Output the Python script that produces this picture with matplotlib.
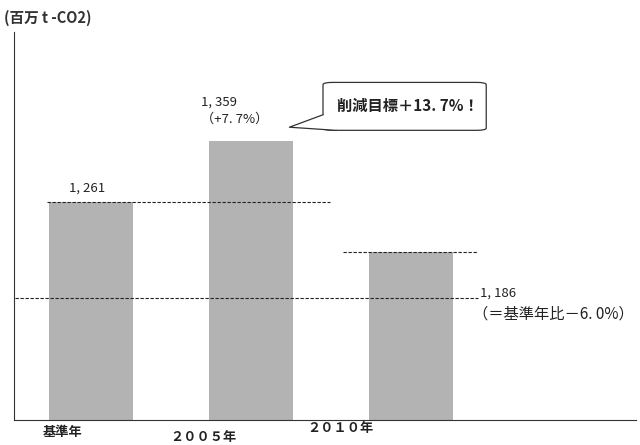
import matplotlib
matplotlib.use("Agg")
import matplotlib.pyplot as plt
from matplotlib.patches import FancyBboxPatch, Polygon

plt.rcParams['font.family'] = ['Noto Sans CJK JP', 'DejaVu Sans']

categories = ["基準年", "２００５年", "２０１０年"]
values = [1261, 1359, 1181]
value_labels = ["1, 261", "1, 359\n（+7. 7%）", ""]
target_value = 1107          # schematic position of the 1,186 target line
target_value_label = "1, 186"
target_note = "（＝基準年比－6. 0%）"
callout_text = "削減目標＋13. 7%！"
unit_label = "(百万 t -CO2)"

fig = plt.figure(figsize=(6.4, 4.45), dpi=100)
ax = fig.add_axes([14/640, 25/445, 622/640, 388/445])
x = list(range(len(categories)))
ax.bar(x, values, width=0.525, color="#b3b3b3", zorder=1)
ax.set_xlim(-0.481, 3.406)
ax.set_ylim(910.5, 1534)
for s in ["top", "right"]:
    ax.spines[s].set_visible(False)
ax.spines["left"].set_color("#333333")
ax.spines["bottom"].set_color("#333333")
ax.set_xticks([])
ax.set_yticks([])

dash = dict(color="#222222", lw=0.8, ls=(0, (3, 1.5)), zorder=2)
ax.plot([-0.275, 1.494], [values[0], values[0]], **dash)
ax.plot([1.575, 2.41], [values[2], values[2]], **dash)
ax.plot([-0.475, 2.42], [target_value, target_value], **dash)

fs = 9.5
ax.text(-0.14, values[0] + 12, value_labels[0], fontsize=fs, ha="left", va="bottom", color="#222222")
ax.text(0.69, values[1] + 24, value_labels[1], fontsize=fs, ha="left", va="bottom",
        color="#222222", linespacing=1.4)
ax.text(2.43, target_value - 3, target_value_label, fontsize=fs, ha="left", va="bottom",
        color="#222222")
ax.text(2.39, target_value - 12, target_note, fontsize=11, ha="left", va="top",
        color="#222222")

# callout
bx0, bx1 = 1.45, 2.47
by0, by1 = 1376, 1453
box = FancyBboxPatch((bx0, by0), bx1 - bx0, by1 - by0,
                     boxstyle="round,pad=0,rounding_size=0.06",
                     mutation_aspect=60, fc="white", ec="#333333", lw=0.9, zorder=3)
ax.add_patch(box)
tip = (1.24, 1381)
up = (bx0, 1401)
low = (1.53, by0)
ax.add_patch(Polygon([tip, up, (1.53, 1395), low], closed=True, fc="white", ec="none", zorder=4))
ax.plot([up[0], tip[0], low[0]], [up[1], tip[1], low[1]], color="#333333", lw=0.9, zorder=5)
ax.text((bx0 + bx1) / 2 + 0.02, (by0 + by1) / 2, callout_text, fontsize=11, ha="center",
        va="center", color="#222222", zorder=6, fontweight="semibold")

# category labels (offset as in original)
cat_x = [-0.18, 0.70, 1.56]
cat_y = [-0.03, -0.045, -0.02]
for cx, cy, c in zip(cat_x, cat_y, categories):
    ax.text(cx, cy, c, transform=ax.get_xaxis_transform(), fontsize=fs,
            ha="center", va="center", fontweight="bold", color="#222222")

fig.text(4/640, 1 - 18/445, unit_label, fontsize=10.5, ha="left", va="center",
         color="#333333", fontweight="semibold")

fig.savefig("out.png", dpi=100)
